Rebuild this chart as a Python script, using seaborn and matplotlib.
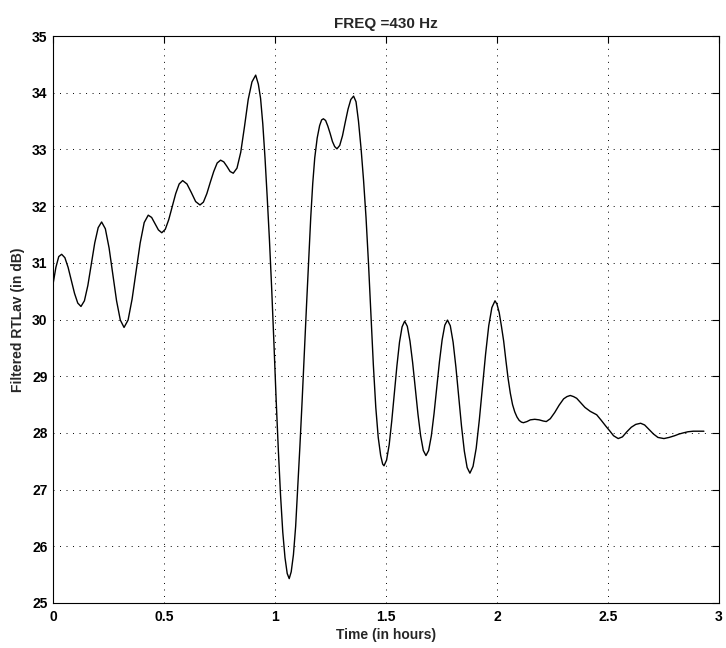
import matplotlib
matplotlib.use("Agg")
import matplotlib.pyplot as plt
import pandas as pd
import seaborn as sns

# Filtered RTLav level (dB) against time (hours), in three phases.
rise_hours = [0.000, 0.013, 0.026, 0.039, 0.0535, 0.068, 0.0825, 0.097, 0.1115, 0.126,
              0.1415, 0.157, 0.1725, 0.188, 0.2035, 0.219, 0.2358, 0.2527, 0.2695, 0.2863,
              0.3032, 0.320, 0.3382, 0.3563, 0.3745, 0.3927, 0.4108, 0.429, 0.4443, 0.4595,
              0.4748, 0.490, 0.5057, 0.5213, 0.537, 0.5527, 0.5683, 0.584, 0.6035, 0.623,
              0.6425, 0.662, 0.6775, 0.693, 0.7085, 0.724, 0.7395, 0.755, 0.7693, 0.7835,
              0.7978, 0.812, 0.8288, 0.8457, 0.8625, 0.8793, 0.8962, 0.913]
rise_db = [30.62, 30.92, 31.11, 31.15, 31.09, 30.92, 30.69, 30.46, 30.29, 30.23,
           30.33, 30.60, 30.98, 31.35, 31.62, 31.72, 31.60, 31.26, 30.79, 30.33,
           29.99, 29.86, 29.99, 30.36, 30.85, 31.35, 31.71, 31.84, 31.80, 31.69,
           31.58, 31.53, 31.59, 31.76, 31.99, 32.22, 32.39, 32.45, 32.39, 32.24,
           32.08, 32.02, 32.07, 32.22, 32.42, 32.61, 32.76, 32.81, 32.78, 32.70,
           32.61, 32.58, 32.67, 32.95, 33.40, 33.88, 34.19, 34.31]

swing_hours = [0.925, 0.935, 0.945, 0.955, 0.965, 0.975, 0.985, 0.995, 1.005, 1.015,
               1.025, 1.035, 1.045, 1.055, 1.064, 1.073, 1.083, 1.093, 1.102, 1.112,
               1.122, 1.132, 1.142, 1.152, 1.161, 1.170, 1.179, 1.190, 1.201, 1.210,
               1.218, 1.228, 1.238, 1.2485, 1.2587, 1.2688, 1.279, 1.2915, 1.304, 1.3165,
               1.329, 1.3415, 1.354, 1.365, 1.376, 1.388, 1.399, 1.410, 1.421, 1.432,
               1.443, 1.454, 1.465, 1.476, 1.485, 1.491, 1.5026, 1.5143, 1.5259, 1.5375,
               1.5491, 1.5608, 1.5724, 1.584, 1.596, 1.608, 1.620, 1.632, 1.644, 1.656,
               1.668, 1.680, 1.6921, 1.7043, 1.7164, 1.7285, 1.7406, 1.7528, 1.7649, 1.777,
               1.7896, 1.8023, 1.8149, 1.8275, 1.8401, 1.8528, 1.8654, 1.878, 1.8921, 1.9063,
               1.9204, 1.9345, 1.9486, 1.9628, 1.9769, 1.991]
swing_db = [34.15, 33.90, 33.45, 32.85, 32.15, 31.40, 30.55, 29.60, 28.60, 27.70,
            26.90, 26.25, 25.80, 25.52, 25.43, 25.55, 25.85, 26.35, 27.00, 27.75,
            28.55, 29.40, 30.25, 31.05, 31.80, 32.40, 32.85, 33.20, 33.42, 33.52,
            33.54, 33.51, 33.41, 33.28, 33.14, 33.05, 33.01, 33.07, 33.24, 33.48,
            33.71, 33.88, 33.94, 33.84, 33.50, 33.00, 32.45, 31.80, 31.00, 30.10,
            29.20, 28.45, 27.92, 27.60, 27.45, 27.42, 27.52, 27.79, 28.21, 28.70,
            29.18, 29.60, 29.87, 29.97, 29.88, 29.62, 29.24, 28.79, 28.33, 27.95,
            27.69, 27.60, 27.69, 27.95, 28.34, 28.80, 29.25, 29.64, 29.90, 29.99,
            29.89, 29.60, 29.16, 28.64, 28.12, 27.68, 27.39, 27.29, 27.41, 27.73,
            28.23, 28.81, 29.39, 29.89, 30.21, 30.33]

settle_hours = [2.000, 2.010, 2.020, 2.030, 2.040, 2.050, 2.060, 2.070, 2.080, 2.090,
                2.100, 2.110, 2.119, 2.135, 2.150, 2.170, 2.190, 2.208, 2.222, 2.240,
                2.260, 2.280, 2.300, 2.315, 2.330, 2.345, 2.359, 2.380, 2.396, 2.420,
                2.449, 2.470, 2.490, 2.509, 2.525, 2.546, 2.565, 2.585, 2.605, 2.625,
                2.647, 2.665, 2.685, 2.705, 2.725, 2.752, 2.775, 2.800, 2.820, 2.839,
                2.860, 2.884, 2.910, 2.932]
settle_db = [30.27, 30.12, 29.88, 29.62, 29.28, 28.96, 28.70, 28.50, 28.37, 28.28,
             28.22, 28.19, 28.18, 28.20, 28.23, 28.24, 28.23, 28.21, 28.20, 28.25,
             28.36, 28.49, 28.60, 28.64, 28.66, 28.64, 28.61, 28.52, 28.45, 28.38,
             28.32, 28.22, 28.12, 28.03, 27.95, 27.90, 27.93, 28.02, 28.10, 28.15,
             28.17, 28.14, 28.06, 27.98, 27.92, 27.90, 27.92, 27.95, 27.98, 28.00,
             28.02, 28.03, 28.03, 28.03]

x_ticks = [0, 0.5, 1, 1.5, 2, 2.5, 3]
x_tick_labels = ["0", "0.5", "1", "1.5", "2", "2.5", "3"]
y_ticks = [25, 26, 27, 28, 29, 30, 31, 32, 33, 34, 35]
y_tick_labels = [str(v) for v in y_ticks]

title_text = "FREQ =430 Hz"
x_label = "Time (in hours)"
y_label = "Filtered RTLav (in dB)"

sns.set_style("white")
plt.rcParams["font.family"] = ["Liberation Sans", "DejaVu Sans"]
plt.rcParams["font.weight"] = "bold"

series = pd.DataFrame({
    "hours": rise_hours + swing_hours + settle_hours,
    "level": rise_db + swing_db + settle_db,
})

fig = plt.figure(figsize=(7.26, 6.48), dpi=100)
ax = fig.add_axes([53 / 726, 1 - 603 / 648, 666 / 726, 567 / 648])

sns.lineplot(data=series, x="hours", y="level", ax=ax, color="black",
             linewidth=1.0, estimator=None, sort=False)

ax.set_xlim(0, 3)
ax.set_ylim(25, 35)
ax.set_xticks(x_ticks)
ax.set_xticklabels(x_tick_labels)
ax.set_yticks(y_ticks)
ax.set_yticklabels(y_tick_labels)

ax.grid(True, color="black", linestyle=(0, (1, 5.7)), linewidth=0.7)
ax.tick_params(direction="in", top=True, right=True, length=5, width=0.8,
               labelsize=10, color="black", labelcolor="black")
ax.tick_params(axis="x", pad=5)
ax.tick_params(axis="y", pad=4)
for spine in ax.spines.values():
    spine.set_visible(True)
    spine.set_color("black")
    spine.set_linewidth(0.8)

ax.set_title(title_text, fontsize=11, fontweight="bold", pad=6)
ax.set_xlabel(x_label, fontsize=10, fontweight="bold", labelpad=3)
ax.set_ylabel(y_label, fontsize=10, fontweight="bold", labelpad=5)

fig.savefig("out.png", dpi=100, facecolor="white")
